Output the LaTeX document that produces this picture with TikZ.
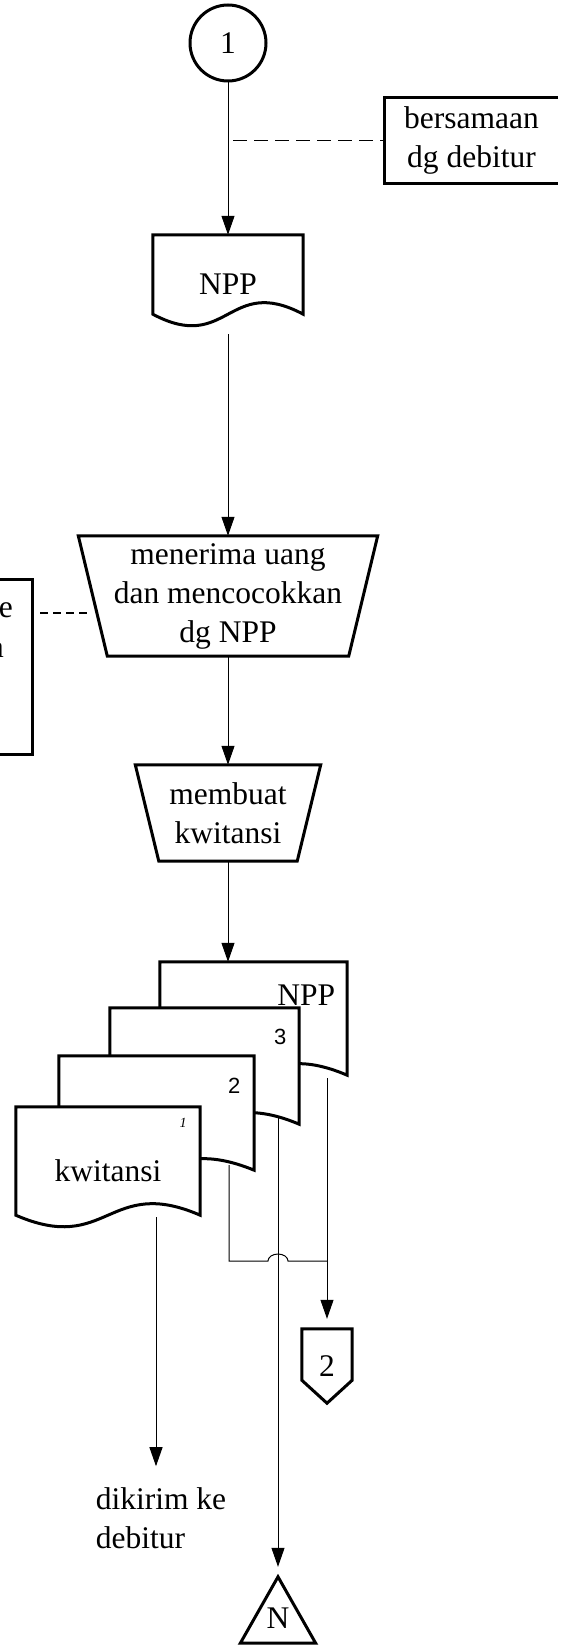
\documentclass[tikz,border=0pt]{standalone}
\usepackage{fontspec}
\setmainfont{Liberation Serif}
\newfontfamily\numfont{Liberation Sans}
\usetikzlibrary{arrows.meta}

\begin{document}
\begin{tikzpicture}[x=1pt,y=-1pt,
    every node/.style={font=\fontsize{31.5}{39}\selectfont,inner sep=2pt},
    shapeline/.style={line width=3pt},
    conn/.style={line width=1pt},
    arr/.style={conn,-{Triangle[length=19pt,width=13pt]}},
    dashln/.style={line width=1.2pt,dash pattern=on 14pt off 7pt},
    docbox/.style={rectangle,fill=white},
    boxnode/.style={rectangle,align=center}]
    \useasboundingbox (0,0) rectangle (565,1645);
    \clip (0,0) rectangle (565,1645);

    \node[circle,draw,line width=3pt,minimum size=76pt] (one) at (228,43) {1};
    \node[boxnode,minimum width=173pt,minimum height=85pt] (note1) at (471.5,140.5) {bersamaan\\dg debitur};
    \draw[shapeline] (note1.north east) -- (note1.north west) -- (note1.south west) -- (note1.south east);

    \foreach \nm/\x/\y/\w/\h/\txt in {npp/228/284.5/150/99/NPP, npp2/253.5/1028.5/187/133/{}, doc3/204.5/1076/189/136/{}, doc2/156.5/1123/195/134/{}, kw/108/1171/184/128/kwitansi}{
        \node[docbox,minimum width=\w pt,minimum height=\h pt] (\nm) at (\x,\y) {\txt};
        \draw[shapeline] (\nm.north west) -- (\nm.north east) -- ([yshift=20pt]\nm.south east)
            .. controls ([yshift=60pt]\nm.south) and ([yshift=-20pt]\nm.south) .. ([yshift=20pt]\nm.south west) -- cycle;
    }

    \node[boxnode,minimum width=299pt,minimum height=120pt] (terima) at (228,596) {menerima uang\\dan mencocokkan\\dg NPP};
    \node[boxnode,minimum width=185pt,minimum height=96pt] (buat) at (228,813) {membuat\\kwitansi};
    \foreach \nm/\ins in {terima/29pt, buat/23.5pt}
        \draw[shapeline] (\nm.north west) -- (\nm.north east) -- ([xshift=-\ins]\nm.south east) -- ([xshift=\ins]\nm.south west) -- cycle;

    \node[rectangle,minimum width=132pt,minimum height=174pt] (note2) at (-34,667) {};
    \draw[shapeline] (note2.north west) -- (note2.north east) -- (note2.south east) -- (note2.south west);
    \node[anchor=east,inner sep=0pt] (note2e) at (13,610) {e};
    \node[anchor=east,inner sep=0pt] (note2a) at (4,650) {a};

    \node (lblnpp) at ([shift={+(-41,33)}]npp2.north east) {NPP};
    \node[font=\numfont\fontsize{22}{26}\selectfont] (lbl3) at ([shift={+(-19,29)}]doc3.north east) {3};
    \node[font=\numfont\fontsize{22}{26}\selectfont] (lbl2) at ([shift={+(-20,30)}]doc2.north east) {2};
    \node[font=\fontsize{14}{16}\selectfont\itshape] (lbl1) at ([shift={+(-17,16)}]kw.north east) {1};

    \node[rectangle,minimum width=50pt,minimum height=74pt] (off2) at (327,1366) {2};
    \draw[shapeline] (off2.north west) -- (off2.north east) -- ([yshift=23pt]off2.south east) -- (off2.south) -- ([yshift=23pt]off2.south west) -- cycle;
    \node[rectangle,minimum width=75pt,minimum height=66pt] (endN) at (278,1610) {};
    \draw[shapeline] (endN.north) -- (endN.south east) -- (endN.south west) -- cycle;
    \node (lblN) at ([shift={+(0,8)}]endN) {N};
    \node[align=left] (kirim) at (161,1518) {dikirim ke\\debitur};

    \draw[arr] (one) -- (npp);
    \draw[dashln,shorten <=5pt] (one |- note1.west) -- (note1.west);
    \draw[arr] (npp) -- (terima);
    \coordinate (tside) at (92,613);
    \draw[dashln,dash pattern=on 8pt off 5pt,shorten <=8pt] (note2.east |- tside) -- (tside);
    \draw[arr] (terima) -- (buat);
    \draw[arr] (buat) -- (buat |- npp2.north);

    \coordinate (n2out) at ([xshift=73.5pt,yshift=17pt]npp2.south);
    \coordinate (d3out) at ([xshift=73.5pt,yshift=27pt]doc3.south);
    \coordinate (d2out) at ([xshift=72.5pt,yshift=25pt]doc2.south);
    \coordinate (kwout) at ([xshift=48pt,yshift=18pt]kw.south);
    \coordinate (join) at (327,1261);
    \coordinate (hop) at (d3out |- join);
    \draw[arr,shorten >=10pt] (n2out) -- (off2);
    \draw[conn] (d2out) |- ([xshift=-10pt]hop) arc[start angle=180,end angle=0,x radius=10pt,y radius=7pt] -- (join);
    \draw[arr,shorten >=10pt] (d3out) -- (endN);
    \draw[arr,shorten >=19pt] (kwout) -- (kwout |- kirim.north);
\end{tikzpicture}
\end{document}
